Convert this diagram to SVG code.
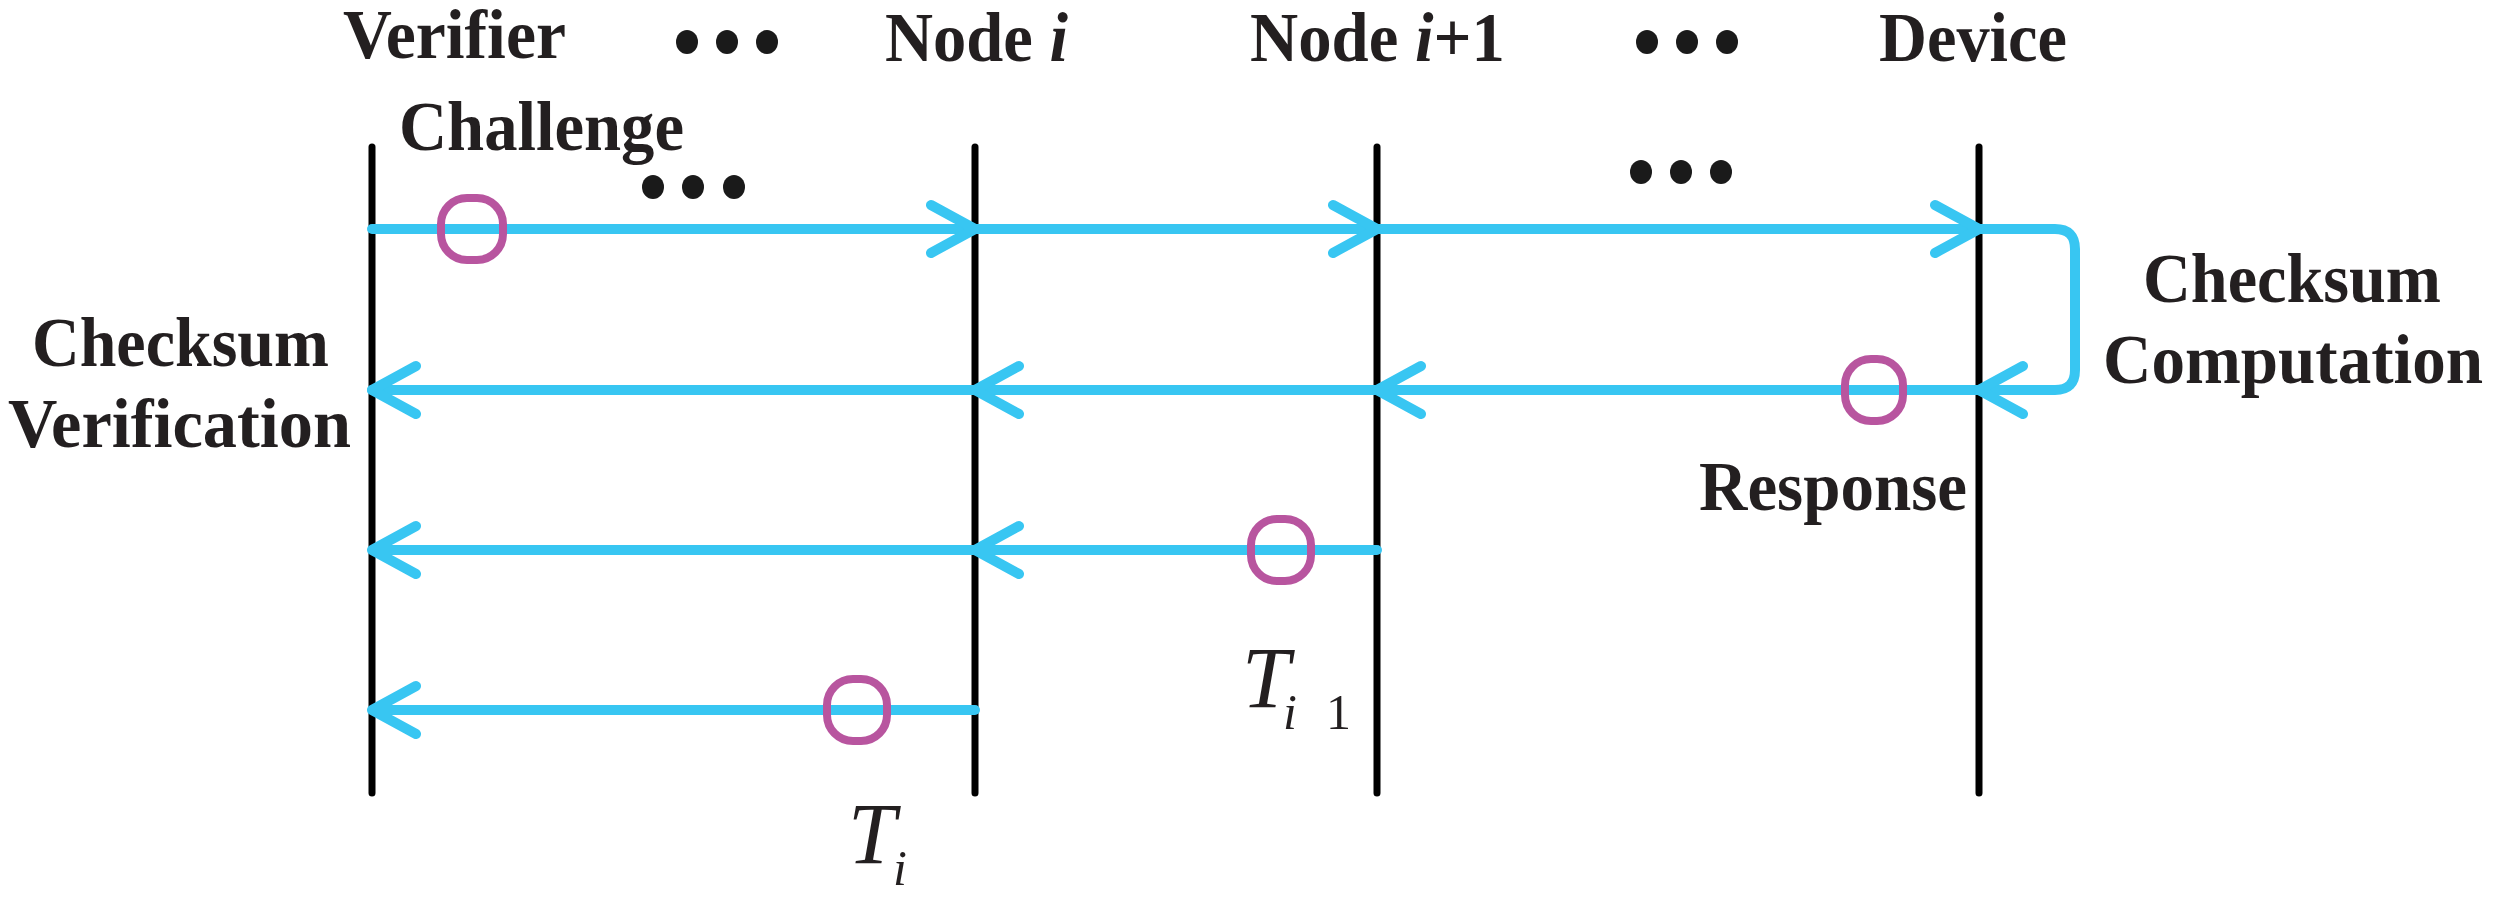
<svg xmlns="http://www.w3.org/2000/svg" width="2506" height="899" viewBox="0 0 2506 899">
<style>
.lbl{font-family:"Liberation Serif",serif;font-weight:bold;font-size:70px;fill:#231f20}
.math{font-family:"Liberation Serif",serif;font-style:italic;fill:#231f20}
.life{stroke:#000;stroke-width:7;stroke-linecap:round}
.msg{stroke:#38c6f2;stroke-width:10;fill:none;stroke-linecap:round;stroke-linejoin:round}
.tok{fill:none;stroke:#b8559f;stroke-width:8}
.dot{fill:#1a1a1a}
</style>
<rect width="2506" height="899" fill="#fff"/>
<g id="verifier"><line class="life" x1="372" y1="147" x2="372" y2="793"/>
<text class="lbl" x="343" y="58" textLength="223" lengthAdjust="spacingAndGlyphs">Verifier</text></g>
<g id="node-i"><line class="life" x1="975" y1="147" x2="975" y2="793"/>
<text class="lbl" x="885" y="61" textLength="183" lengthAdjust="spacingAndGlyphs">Node <tspan font-style="italic">i</tspan></text></g>
<g id="node-i1"><line class="life" x1="1377" y1="147" x2="1377" y2="793"/>
<text class="lbl" x="1250" y="61" textLength="255" lengthAdjust="spacingAndGlyphs">Node <tspan font-style="italic">i</tspan>+1</text></g>
<g id="device"><line class="life" x1="1979" y1="147" x2="1979" y2="793"/>
<text class="lbl" x="1879" y="61" textLength="188" lengthAdjust="spacingAndGlyphs">Device</text></g>
<g id="dots">
<ellipse class="dot" cx="687" cy="42" rx="11" ry="12"/><ellipse class="dot" cx="727" cy="42" rx="11" ry="12"/><ellipse class="dot" cx="767" cy="42" rx="11" ry="12"/>
<ellipse class="dot" cx="1647" cy="42" rx="11" ry="12"/><ellipse class="dot" cx="1687" cy="42" rx="11" ry="12"/><ellipse class="dot" cx="1727" cy="42" rx="11" ry="12"/>
<ellipse class="dot" cx="653" cy="187" rx="11" ry="12"/><ellipse class="dot" cx="693" cy="187" rx="11" ry="12"/><ellipse class="dot" cx="734" cy="187" rx="11" ry="12"/>
<ellipse class="dot" cx="1641" cy="172" rx="11" ry="12"/><ellipse class="dot" cx="1681" cy="172" rx="11" ry="12"/><ellipse class="dot" cx="1721" cy="172" rx="11" ry="12"/>
</g>
<g id="connectors">
<path class="msg" d="M372 229 H2055 Q2075 229 2075 249 V370 Q2075 390 2055 390 H372"/>
<path class="msg" d="M931 205 L975 229 L931 253 M1333 205 L1377 229 L1333 253 M1935 205 L1979 229 L1935 253"/>
<path class="msg" d="M2023 366 L1979 390 L2023 414 M1421 366 L1377 390 L1421 414 M1019 366 L975 390 L1019 414 M416 366 L372 390 L416 414"/>
<path class="msg" d="M1377 550 H372 M1019 526 L975 550 L1019 574 M416 526 L372 550 L416 574"/>
<path class="msg" d="M975 710 H372 M416 686 L372 710 L416 734"/>
</g>
<g id="tokens">
<rect class="tok" x="441" y="198" width="62" height="62" rx="26"/>
<rect class="tok" x="1845" y="359" width="58" height="62" rx="26"/>
<rect class="tok" x="1251" y="519" width="60" height="62" rx="26"/>
<rect class="tok" x="827" y="679" width="60" height="62" rx="26"/>
</g>
<g id="labels">
<text class="lbl" x="399" y="150" textLength="285" lengthAdjust="spacingAndGlyphs">Challenge</text>
<text class="lbl" x="32" y="366" textLength="297" lengthAdjust="spacingAndGlyphs">Checksum</text>
<text class="lbl" x="8" y="447" textLength="343" lengthAdjust="spacingAndGlyphs">Verification</text>
<text class="lbl" x="2143" y="302" textLength="298" lengthAdjust="spacingAndGlyphs">Checksum</text>
<text class="lbl" x="2103" y="383" textLength="380" lengthAdjust="spacingAndGlyphs">Computation</text>
<text class="lbl" x="1699" y="510" textLength="268" lengthAdjust="spacingAndGlyphs">Response</text>
<text class="math" x="848" y="863" font-size="86">T</text><text class="math" x="893" y="885" font-size="50">i</text>
<text class="math" x="1242" y="707" font-size="86">T</text><text class="math" x="1283" y="729" font-size="50">i</text><text x="1326" y="729" font-size="50" font-family="Liberation Serif,serif" fill="#231f20">1</text>
</g>
</svg>
